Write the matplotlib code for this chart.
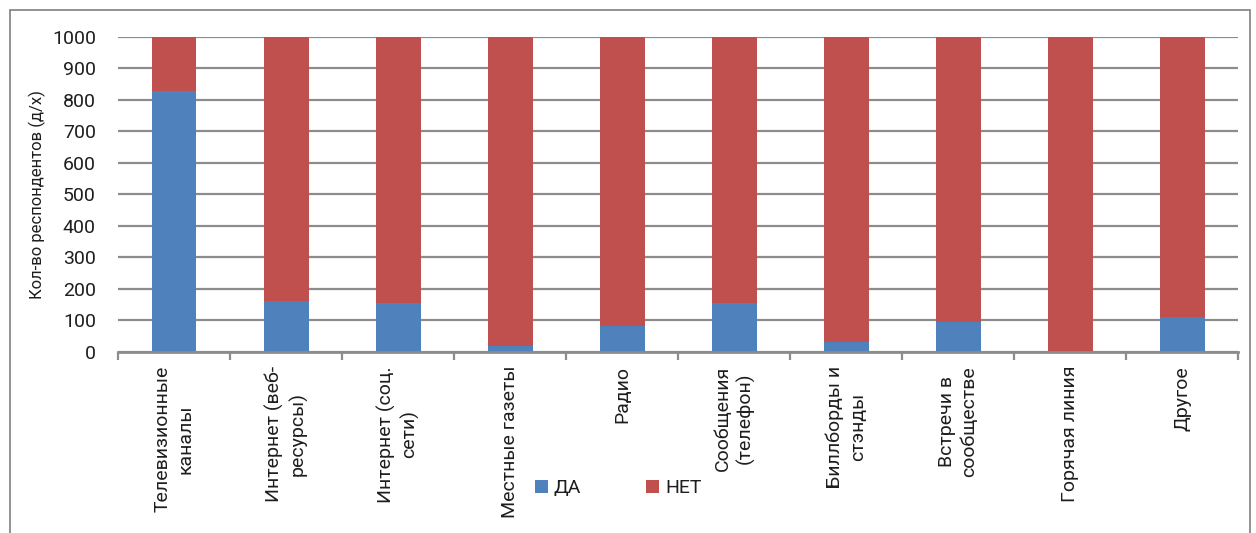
import matplotlib
matplotlib.use("Agg")
from matplotlib import pyplot as plt
from matplotlib.patches import Rectangle
import numpy as np

plt.rcParams['font.family'] = ['Roboto', 'DejaVu Sans']

categories = ["Телевизионные\nканалы", "Интернет (веб-\nресурсы)", "Интернет (соц.\nсети)",
              "Местные газеты", "Радио", "Сообщения\n(телефон)", "Биллборды и\nстэнды",
              "Встречи в\nсообществе", "Горячая линия", "Другое"]
da = [828, 161, 155, 20, 83, 155, 31, 96, 4, 112]
net = [1000 - v for v in da]

blue = '#4F81BD'
red = '#C0504D'
grid_col = '#8C8C8C'
text_col = '#1E1E1E'

fig = plt.figure(figsize=(12.56, 5.33), dpi=100)
ax = fig.add_axes([0.094, 0.3396, 0.892, 0.591])

xs = np.arange(len(categories))
ax.bar(xs, da, width=0.4, color=blue, label='ДА', zorder=3)
ax.bar(xs, net, width=0.4, bottom=da, color=red, label='НЕТ', zorder=3)

ax.set_xlim(-0.5, len(categories) - 0.5)
ax.set_ylim(0, 1000)
ax.set_yticks(range(0, 1001, 100))
ax.yaxis.grid(True, color=grid_col, linewidth=1.6, zorder=0)
ax.tick_params(axis='y', length=0, pad=16, labelsize=14, labelcolor=text_col)

ax.set_xticks(xs)
ax.set_xticklabels(categories, rotation=90, ha='center', va='top',
                   multialignment='center', fontsize=14, color=text_col,
                   linespacing=1.3)
ax.set_xticks(np.arange(-0.5, len(categories), 1), minor=True)
ax.tick_params(axis='x', which='major', length=0, pad=10)
ax.tick_params(axis='x', which='minor', length=6, width=1.6, color=grid_col)

for s in ['top', 'right', 'left']:
    ax.spines[s].set_visible(False)
ax.spines['bottom'].set_color(grid_col)
ax.spines['bottom'].set_linewidth(2)
ax.spines['bottom'].set_zorder(4)

ax.set_ylabel("Кол-во респондентов (д/х)", fontsize=12, color=text_col, labelpad=4)

fig.legend(loc='center', bbox_to_anchor=(0.492, 0.084), ncol=2, frameon=False,
           fontsize=14, handlelength=0.7, handleheight=0.7, handletextpad=0.3,
           columnspacing=3.3, labelcolor=text_col)

fig.patches.append(Rectangle((10 / 1256, -0.05), 1240 / 1256, 1 - 10 / 533 + 0.05,
                             transform=fig.transFigure, fill=False,
                             edgecolor='#7F7F7F', linewidth=1.2))

fig.savefig("out.png", dpi=100)
